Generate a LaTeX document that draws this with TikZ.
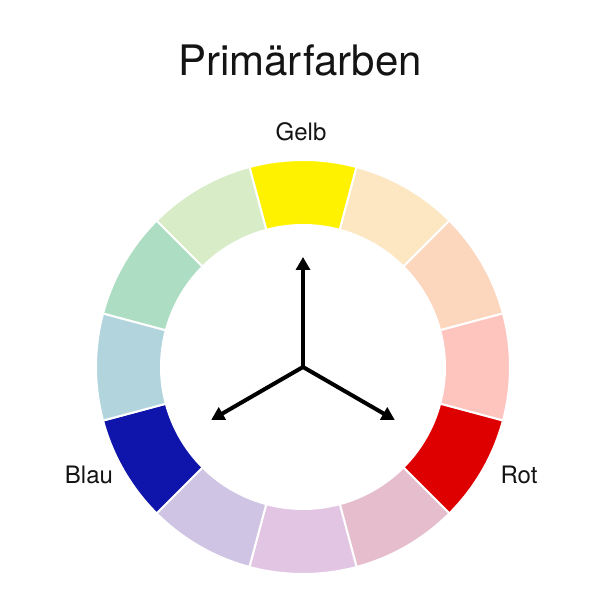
\documentclass[tikz,border=0pt]{standalone}
\usepackage{fontspec}
\setmainfont{TeX Gyre Heros}
\usetikzlibrary{arrows.meta}
\definecolor{c90}{HTML}{FFF200}
\definecolor{c60}{HTML}{FDE6C2}
\definecolor{c30}{HTML}{FDD6BE}
\definecolor{c0}{HTML}{FEC5BF}
\definecolor{cm30}{HTML}{DE0000}
\definecolor{cm60}{HTML}{E5BDCD}
\definecolor{cm90}{HTML}{E2C4E3}
\definecolor{cm120}{HTML}{CFC4E3}
\definecolor{cm150}{HTML}{0F15AA}
\definecolor{c180}{HTML}{B2D5DD}
\definecolor{c150}{HTML}{ADDDC3}
\definecolor{c120}{HTML}{D7ECC7}
\tikzset{
  segment/.style={draw=white, line width=2pt},
  primarrow/.style={line width=4pt, -{Triangle[length=13pt,width=14pt]}},
  label/.style={font=\fontsize{24}{28}\selectfont, text=black!92}
}
\begin{document}
\begin{tikzpicture}[x=1pt,y=1pt]
\useasboundingbox (0,0) rectangle (600,600);
\fill[white] (0,0) rectangle (600,600);
\coordinate (c) at (303,233);
\begin{scope}[shift={(303,233)}]
\foreach \a/\col in {90/c90,60/c60,30/c30,0/c0,-30/cm30,-60/cm60,-90/cm90,-120/cm120,-150/cm150,180/c180,150/c150,120/c120}{
  \pgfmathsetmacro{\s}{\a-15}
  \pgfmathsetmacro{\e}{\a+15}
  \fill[\col, segment] (\s:142) arc[start angle=\s, end angle=\e, radius=142] -- (\e:207) arc[start angle=\e, end angle=\s, radius=207] -- cycle;
}
\coordinate (tu) at (90:110);
\coordinate (tl) at (210:106);
\coordinate (tr) at (-30:106);
\end{scope}
\draw[primarrow] (c) -- (tu);
\draw[primarrow] (c) -- (tl);
\draw[primarrow] (c) -- (tr);
\node[font=\fontsize{42}{48}\selectfont, text=black!92] (title) at (300,540) {Primärfarben};
\node[label] (gelb) at (301,468) {Gelb};
\node[label] (blau) at (89,125) {Blau};
\node[label] (rot) at (519,125) {Rot};
\end{tikzpicture}
\end{document}
